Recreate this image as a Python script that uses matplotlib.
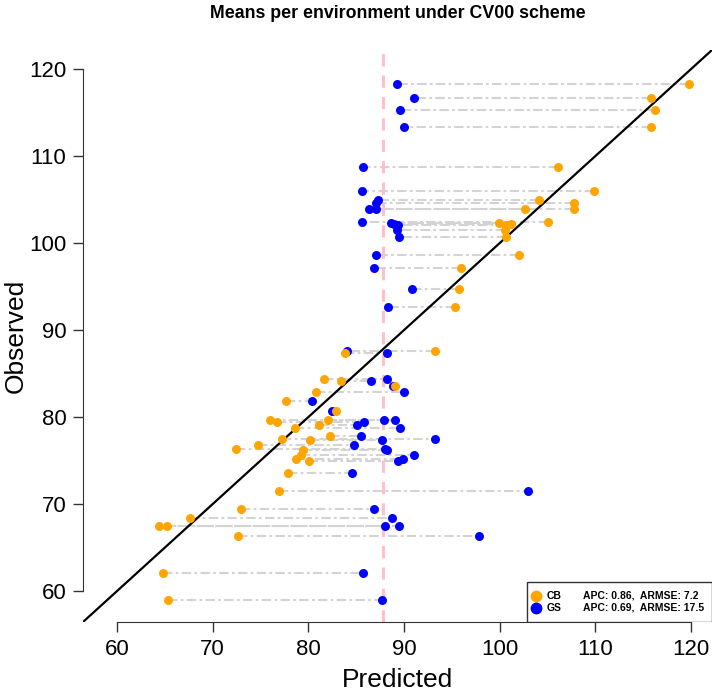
import matplotlib
matplotlib.use('Agg')
import matplotlib.pyplot as plt
from matplotlib.patches import Rectangle

plt.rcParams['font.family'] = ['Liberation Sans', 'DejaVu Sans']

# observed mean per environment and the two predictions (CB, GS)
observed = [118.24, 116.70, 115.33, 113.30, 108.70, 106.01, 104.94, 104.63, 103.94, 103.88,
            102.38, 102.34, 102.20, 102.03, 101.49, 100.73, 98.58, 97.16, 94.75, 92.68,
            87.62, 87.39, 84.35, 84.14, 83.56, 82.91, 81.87, 80.69, 79.70, 79.62,
            79.43, 79.08, 78.77, 77.85, 77.47, 77.36, 76.78, 76.29, 76.18, 75.69,
            75.15, 74.94, 73.56, 71.53, 69.46, 68.35, 67.53, 67.45, 66.36, 62.03, 58.97]
pred_cb = [119.82, 115.78, 116.19, 115.85, 106.13, 109.89, 104.07, 107.73, 107.73, 102.65,
           105.05, 99.89, 101.21, 100.62, 100.59, 100.66, 102.05, 95.99, 95.71, 95.36,
           93.27, 83.79, 81.60, 83.41, 89.09, 80.80, 77.70, 82.92, 76.02, 82.05,
           76.72, 81.08, 78.64, 82.23, 77.25, 80.13, 74.74, 72.47, 79.44, 79.26,
           78.74, 80.07, 77.87, 76.96, 72.99, 67.63, 64.42, 65.18, 72.64, 64.77, 65.33]
pred_gs = [89.30, 91.08, 89.54, 90.00, 85.71, 85.61, 87.24, 87.10, 87.03, 86.37,
           85.61, 88.64, 88.92, 89.37, 89.27, 89.51, 87.07, 86.89, 90.84, 88.36,
           84.04, 88.22, 88.22, 86.58, 88.85, 90.03, 80.38, 82.47, 89.09, 87.87,
           85.82, 85.09, 89.58, 85.54, 93.27, 87.70, 84.80, 87.97, 88.22, 91.04,
           89.86, 89.33, 84.56, 103.00, 86.86, 88.74, 88.04, 89.51, 97.87, 85.71, 87.70]
gs_mean = 87.78
methods = ['CB', 'GS']
stats = ['APC: 0.86,  ARMSE: 7.2', 'APC: 0.69,  ARMSE: 17.5']
ticks = [60, 70, 80, 90, 100, 110, 120]
lims = (56.45, 122.2)

fig = plt.figure(figsize=(7.16, 6.97), dpi=100)
ax = fig.add_axes([83/716, 1 - 622/697, 629/716, 572/697])
ax.set_xlim(lims); ax.set_ylim(lims)

ax.hlines(observed, pred_cb, pred_gs, colors='#d3d3d3', lw=1.5,
          linestyles=[(0, (4.5, 1.6, 1.3, 1.6))], zorder=1)
ax.axvline(gs_mean, color='pink', lw=2.2, ls=(0, (4, 3)), zorder=2)
ax.axline((60, 60), slope=1, color='black', lw=1.6, zorder=3)
ax.scatter(pred_gs, observed, s=42, color='blue', zorder=4, linewidths=0)
ax.scatter(pred_cb, observed, s=42, color='orange', zorder=5, linewidths=0)

for s in ['top', 'right']:
    ax.spines[s].set_visible(False)
for s in ['left', 'bottom']:
    ax.spines[s].set_bounds(60, 120)
    ax.spines[s].set_color('#333333')
ax.set_xticks(ticks); ax.set_yticks(ticks)
ax.tick_params(direction='out', length=7, width=1, color='#333333', labelsize=16, pad=5)
ax.set_xlabel('Predicted', fontsize=19, labelpad=6)
ax.set_ylabel('Observed', fontsize=19)
ax.yaxis.set_label_coords(-0.088, 0.5)
fig.text(397.5/716, 1 - 14/697, 'Means per environment under CV00 scheme',
         ha='center', va='center', fontsize=12.8, fontweight='bold')

# legend box in the bottom right corner
ax.add_patch(Rectangle((0.7054, 0), 0.2946, 0.0705, transform=ax.transAxes,
                       facecolor='white', edgecolor='#333333', lw=1, zorder=6))
for i, (m, st, c) in enumerate(zip(methods, stats, ['orange', 'blue'])):
    yy = 0.046 - i * 0.021
    ax.plot([0.7207], [yy], 'o', ms=7.5, color=c, transform=ax.transAxes, zorder=7, clip_on=False)
    ax.text(0.7372, yy, m, transform=ax.transAxes, fontsize=7.5, fontweight='bold',
            va='center', zorder=7)
    ax.text(0.7954, yy, st, transform=ax.transAxes, fontsize=7.5, fontweight='bold',
            va='center', zorder=7)

fig.savefig('out.png', dpi=100)
